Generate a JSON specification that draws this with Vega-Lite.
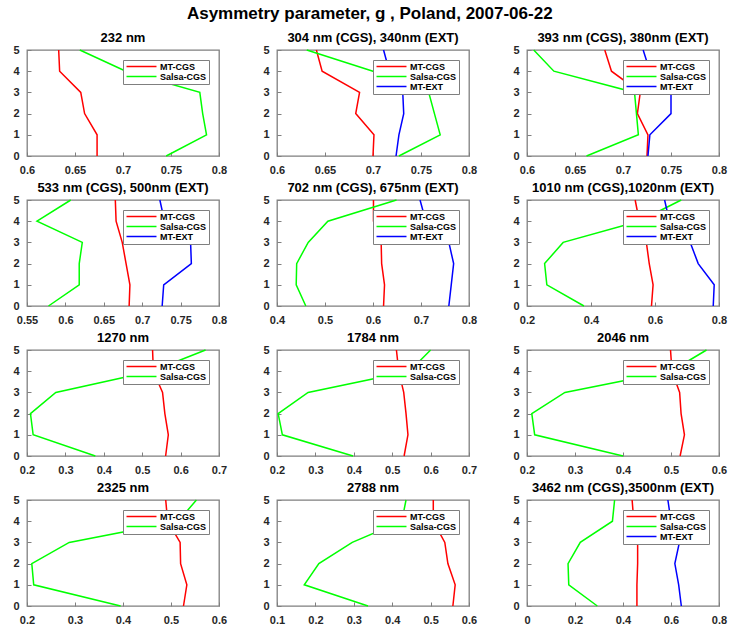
{
  "$schema": "https://vega.github.io/schema/vega-lite/v6.json",
  "title": {"text": "Asymmetry parameter, g ,  Poland, 2007-06-22", "fontSize": 17, "anchor": "middle", "offset": 8},
  "padding": {"left": 12, "top": 5, "right": 5, "bottom": 5},
  "datasets": {
    "g": [
      {"p":1,"s":"MT-CGS","y":0,"g":0.673},{"p":1,"s":"MT-CGS","y":1,"g":0.673},{"p":1,"s":"MT-CGS","y":2,"g":0.660},{"p":1,"s":"MT-CGS","y":3,"g":0.656},{"p":1,"s":"MT-CGS","y":4,"g":0.634},{"p":1,"s":"MT-CGS","y":5,"g":0.633},
      {"p":1,"s":"Salsa-CGS","y":0,"g":0.745},{"p":1,"s":"Salsa-CGS","y":1,"g":0.787},{"p":1,"s":"Salsa-CGS","y":2,"g":0.783},{"p":1,"s":"Salsa-CGS","y":3,"g":0.780},{"p":1,"s":"Salsa-CGS","y":4,"g":0.703},{"p":1,"s":"Salsa-CGS","y":5,"g":0.655},
      {"p":2,"s":"MT-CGS","y":0,"g":0.700},{"p":2,"s":"MT-CGS","y":1,"g":0.701},{"p":2,"s":"MT-CGS","y":2,"g":0.682},{"p":2,"s":"MT-CGS","y":3,"g":0.686},{"p":2,"s":"MT-CGS","y":4,"g":0.647},{"p":2,"s":"MT-CGS","y":5,"g":0.641},
      {"p":2,"s":"Salsa-CGS","y":0,"g":0.727},{"p":2,"s":"Salsa-CGS","y":1,"g":0.770},{"p":2,"s":"Salsa-CGS","y":2,"g":0.764},{"p":2,"s":"Salsa-CGS","y":3,"g":0.758},{"p":2,"s":"Salsa-CGS","y":4,"g":0.700},{"p":2,"s":"Salsa-CGS","y":5,"g":0.631},
      {"p":2,"s":"MT-EXT","y":0,"g":0.724},{"p":2,"s":"MT-EXT","y":1,"g":0.727},{"p":2,"s":"MT-EXT","y":2,"g":0.732},{"p":2,"s":"MT-EXT","y":3,"g":0.731},{"p":2,"s":"MT-EXT","y":4,"g":0.717},{"p":2,"s":"MT-EXT","y":5,"g":0.711},
      {"p":3,"s":"MT-CGS","y":0,"g":0.725},{"p":3,"s":"MT-CGS","y":1,"g":0.726},{"p":3,"s":"MT-CGS","y":2,"g":0.715},{"p":3,"s":"MT-CGS","y":3,"g":0.718},{"p":3,"s":"MT-CGS","y":4,"g":0.688},{"p":3,"s":"MT-CGS","y":5,"g":0.681},
      {"p":3,"s":"Salsa-CGS","y":0,"g":0.662},{"p":3,"s":"Salsa-CGS","y":1,"g":0.716},{"p":3,"s":"Salsa-CGS","y":2,"g":0.714},{"p":3,"s":"Salsa-CGS","y":3,"g":0.712},{"p":3,"s":"Salsa-CGS","y":4,"g":0.628},{"p":3,"s":"Salsa-CGS","y":5,"g":0.607},
      {"p":3,"s":"MT-EXT","y":0,"g":0.726},{"p":3,"s":"MT-EXT","y":1,"g":0.728},{"p":3,"s":"MT-EXT","y":2,"g":0.750},{"p":3,"s":"MT-EXT","y":3,"g":0.750},{"p":3,"s":"MT-EXT","y":4,"g":0.728},{"p":3,"s":"MT-EXT","y":5,"g":0.721},
      {"p":4,"s":"MT-CGS","y":0,"g":0.683},{"p":4,"s":"MT-CGS","y":1,"g":0.684},{"p":4,"s":"MT-CGS","y":2,"g":0.679},{"p":4,"s":"MT-CGS","y":3,"g":0.674},{"p":4,"s":"MT-CGS","y":4,"g":0.666},{"p":4,"s":"MT-CGS","y":5,"g":0.665},
      {"p":4,"s":"Salsa-CGS","y":0,"g":0.578},{"p":4,"s":"Salsa-CGS","y":1,"g":0.618},{"p":4,"s":"Salsa-CGS","y":2,"g":0.618},{"p":4,"s":"Salsa-CGS","y":3,"g":0.622},{"p":4,"s":"Salsa-CGS","y":4,"g":0.563},{"p":4,"s":"Salsa-CGS","y":5,"g":0.607},
      {"p":4,"s":"MT-EXT","y":0,"g":0.726},{"p":4,"s":"MT-EXT","y":1,"g":0.728},{"p":4,"s":"MT-EXT","y":2,"g":0.764},{"p":4,"s":"MT-EXT","y":3,"g":0.763},{"p":4,"s":"MT-EXT","y":4,"g":0.729},{"p":4,"s":"MT-EXT","y":5,"g":0.723},
      {"p":5,"s":"MT-CGS","y":0,"g":0.622},{"p":5,"s":"MT-CGS","y":1,"g":0.624},{"p":5,"s":"MT-CGS","y":2,"g":0.618},{"p":5,"s":"MT-CGS","y":3,"g":0.617},{"p":5,"s":"MT-CGS","y":4,"g":0.601},{"p":5,"s":"MT-CGS","y":5,"g":0.601},
      {"p":5,"s":"Salsa-CGS","y":0,"g":0.460},{"p":5,"s":"Salsa-CGS","y":1,"g":0.440},{"p":5,"s":"Salsa-CGS","y":2,"g":0.441},{"p":5,"s":"Salsa-CGS","y":3,"g":0.465},{"p":5,"s":"Salsa-CGS","y":4,"g":0.506},{"p":5,"s":"Salsa-CGS","y":5,"g":0.649},
      {"p":5,"s":"MT-EXT","y":0,"g":0.758},{"p":5,"s":"MT-EXT","y":1,"g":0.763},{"p":5,"s":"MT-EXT","y":2,"g":0.768},{"p":5,"s":"MT-EXT","y":3,"g":0.758},{"p":5,"s":"MT-EXT","y":4,"g":0.710},{"p":5,"s":"MT-EXT","y":5,"g":0.698},
      {"p":6,"s":"MT-CGS","y":0,"g":0.589},{"p":6,"s":"MT-CGS","y":1,"g":0.594},{"p":6,"s":"MT-CGS","y":2,"g":0.582},{"p":6,"s":"MT-CGS","y":3,"g":0.573},{"p":6,"s":"MT-CGS","y":4,"g":0.551},{"p":6,"s":"MT-CGS","y":5,"g":0.538},
      {"p":6,"s":"Salsa-CGS","y":0,"g":0.378},{"p":6,"s":"Salsa-CGS","y":1,"g":0.262},{"p":6,"s":"Salsa-CGS","y":2,"g":0.255},{"p":6,"s":"Salsa-CGS","y":3,"g":0.313},{"p":6,"s":"Salsa-CGS","y":4,"g":0.550},{"p":6,"s":"Salsa-CGS","y":5,"g":0.682},
      {"p":6,"s":"MT-EXT","y":0,"g":0.782},{"p":6,"s":"MT-EXT","y":1,"g":0.785},{"p":6,"s":"MT-EXT","y":2,"g":0.735},{"p":6,"s":"MT-EXT","y":3,"g":0.710},{"p":6,"s":"MT-EXT","y":4,"g":0.645},{"p":6,"s":"MT-EXT","y":5,"g":0.630},
      {"p":7,"s":"MT-CGS","y":0,"g":0.561},{"p":7,"s":"MT-CGS","y":1,"g":0.568},{"p":7,"s":"MT-CGS","y":2,"g":0.559},{"p":7,"s":"MT-CGS","y":3,"g":0.553},{"p":7,"s":"MT-CGS","y":4,"g":0.529},{"p":7,"s":"MT-CGS","y":5,"g":0.527},
      {"p":7,"s":"Salsa-CGS","y":0,"g":0.378},{"p":7,"s":"Salsa-CGS","y":1,"g":0.216},{"p":7,"s":"Salsa-CGS","y":2,"g":0.209},{"p":7,"s":"Salsa-CGS","y":3,"g":0.275},{"p":7,"s":"Salsa-CGS","y":4,"g":0.525},{"p":7,"s":"Salsa-CGS","y":5,"g":0.665},
      {"p":8,"s":"MT-CGS","y":0,"g":0.531},{"p":8,"s":"MT-CGS","y":1,"g":0.541},{"p":8,"s":"MT-CGS","y":2,"g":0.536},{"p":8,"s":"MT-CGS","y":3,"g":0.530},{"p":8,"s":"MT-CGS","y":4,"g":0.517},{"p":8,"s":"MT-CGS","y":5,"g":0.511},
      {"p":8,"s":"Salsa-CGS","y":0,"g":0.398},{"p":8,"s":"Salsa-CGS","y":1,"g":0.214},{"p":8,"s":"Salsa-CGS","y":2,"g":0.203},{"p":8,"s":"Salsa-CGS","y":3,"g":0.281},{"p":8,"s":"Salsa-CGS","y":4,"g":0.545},{"p":8,"s":"Salsa-CGS","y":5,"g":0.600},
      {"p":9,"s":"MT-CGS","y":0,"g":0.519},{"p":9,"s":"MT-CGS","y":1,"g":0.528},{"p":9,"s":"MT-CGS","y":2,"g":0.521},{"p":9,"s":"MT-CGS","y":3,"g":0.518},{"p":9,"s":"MT-CGS","y":4,"g":0.502},{"p":9,"s":"MT-CGS","y":5,"g":0.499},
      {"p":9,"s":"Salsa-CGS","y":0,"g":0.400},{"p":9,"s":"Salsa-CGS","y":1,"g":0.216},{"p":9,"s":"Salsa-CGS","y":2,"g":0.210},{"p":9,"s":"Salsa-CGS","y":3,"g":0.279},{"p":9,"s":"Salsa-CGS","y":4,"g":0.500},{"p":9,"s":"Salsa-CGS","y":5,"g":0.574},
      {"p":10,"s":"MT-CGS","y":0,"g":0.526},{"p":10,"s":"MT-CGS","y":1,"g":0.533},{"p":10,"s":"MT-CGS","y":2,"g":0.520},{"p":10,"s":"MT-CGS","y":3,"g":0.519},{"p":10,"s":"MT-CGS","y":4,"g":0.493},{"p":10,"s":"MT-CGS","y":5,"g":0.489},
      {"p":10,"s":"Salsa-CGS","y":0,"g":0.395},{"p":10,"s":"Salsa-CGS","y":1,"g":0.214},{"p":10,"s":"Salsa-CGS","y":2,"g":0.210},{"p":10,"s":"Salsa-CGS","y":3,"g":0.288},{"p":10,"s":"Salsa-CGS","y":4,"g":0.515},{"p":10,"s":"Salsa-CGS","y":5,"g":0.553},
      {"p":11,"s":"MT-CGS","y":0,"g":0.558},{"p":11,"s":"MT-CGS","y":1,"g":0.564},{"p":11,"s":"MT-CGS","y":2,"g":0.545},{"p":11,"s":"MT-CGS","y":3,"g":0.537},{"p":11,"s":"MT-CGS","y":4,"g":0.507},{"p":11,"s":"MT-CGS","y":5,"g":0.507},
      {"p":11,"s":"Salsa-CGS","y":0,"g":0.337},{"p":11,"s":"Salsa-CGS","y":1,"g":0.171},{"p":11,"s":"Salsa-CGS","y":2,"g":0.209},{"p":11,"s":"Salsa-CGS","y":3,"g":0.296},{"p":11,"s":"Salsa-CGS","y":4,"g":0.425},{"p":11,"s":"Salsa-CGS","y":5,"g":0.436},
      {"p":12,"s":"MT-CGS","y":0,"g":0.458},{"p":12,"s":"MT-CGS","y":1,"g":0.458},{"p":12,"s":"MT-CGS","y":2,"g":0.461},{"p":12,"s":"MT-CGS","y":3,"g":0.461},{"p":12,"s":"MT-CGS","y":4,"g":0.445},{"p":12,"s":"MT-CGS","y":5,"g":0.438},
      {"p":12,"s":"Salsa-CGS","y":0,"g":0.293},{"p":12,"s":"Salsa-CGS","y":1,"g":0.174},{"p":12,"s":"Salsa-CGS","y":2,"g":0.171},{"p":12,"s":"Salsa-CGS","y":3,"g":0.222},{"p":12,"s":"Salsa-CGS","y":4,"g":0.356},{"p":12,"s":"Salsa-CGS","y":5,"g":0.365},
      {"p":12,"s":"MT-EXT","y":0,"g":0.643},{"p":12,"s":"MT-EXT","y":1,"g":0.632},{"p":12,"s":"MT-EXT","y":2,"g":0.616},{"p":12,"s":"MT-EXT","y":3,"g":0.635},{"p":12,"s":"MT-EXT","y":4,"g":0.600},{"p":12,"s":"MT-EXT","y":5,"g":0.587}
    ]
  },
  "data": {"name": "g"},
  "columns": 3,
  "spacing": {"column": 58, "row": 44},
  "bounds": "flush",
  "concat": [
    {"title": "232 nm", "width": 192, "height": 106, "transform": [{"filter": "datum.p == 1"}], "mark": {"type": "line", "strokeWidth": 1.5},
     "encoding": {"x": {"field": "g", "type": "quantitative", "scale": {"domain": [0.6, 0.8], "nice": false, "zero": false}, "axis": {"values": [0.6, 0.65, 0.7, 0.75, 0.8]}},
       "y": {"field": "y", "type": "quantitative", "scale": {"domain": [0, 5], "nice": false}, "axis": {"values": [0, 1, 2, 3, 4, 5]}},
       "color": {"field": "s", "type": "nominal", "scale": {"domain": ["MT-CGS", "Salsa-CGS"], "range": ["#ff0000", "#00ff00"]}},
       "order": {"field": "y", "type": "quantitative"}}},
    {"title": "304 nm (CGS), 340nm (EXT)", "width": 192, "height": 106, "transform": [{"filter": "datum.p == 2"}], "mark": {"type": "line", "strokeWidth": 1.5},
     "encoding": {"x": {"field": "g", "type": "quantitative", "scale": {"domain": [0.6, 0.8], "nice": false, "zero": false}, "axis": {"values": [0.6, 0.65, 0.7, 0.75, 0.8]}},
       "y": {"field": "y", "type": "quantitative", "scale": {"domain": [0, 5], "nice": false}, "axis": {"values": [0, 1, 2, 3, 4, 5]}},
       "color": {"field": "s", "type": "nominal", "scale": {"domain": ["MT-CGS", "Salsa-CGS", "MT-EXT"], "range": ["#ff0000", "#00ff00", "#0000ff"]}},
       "order": {"field": "y", "type": "quantitative"}}},
    {"title": "393 nm (CGS), 380nm (EXT)", "width": 192, "height": 106, "transform": [{"filter": "datum.p == 3"}], "mark": {"type": "line", "strokeWidth": 1.5},
     "encoding": {"x": {"field": "g", "type": "quantitative", "scale": {"domain": [0.6, 0.8], "nice": false, "zero": false}, "axis": {"values": [0.6, 0.65, 0.7, 0.75, 0.8]}},
       "y": {"field": "y", "type": "quantitative", "scale": {"domain": [0, 5], "nice": false}, "axis": {"values": [0, 1, 2, 3, 4, 5]}},
       "color": {"field": "s", "type": "nominal", "scale": {"domain": ["MT-CGS", "Salsa-CGS", "MT-EXT"], "range": ["#ff0000", "#00ff00", "#0000ff"]}},
       "order": {"field": "y", "type": "quantitative"}}},
    {"title": "533 nm (CGS), 500nm (EXT)", "width": 192, "height": 106, "transform": [{"filter": "datum.p == 4"}], "mark": {"type": "line", "strokeWidth": 1.5},
     "encoding": {"x": {"field": "g", "type": "quantitative", "scale": {"domain": [0.55, 0.8], "nice": false, "zero": false}, "axis": {"values": [0.55, 0.6, 0.65, 0.7, 0.75, 0.8]}},
       "y": {"field": "y", "type": "quantitative", "scale": {"domain": [0, 5], "nice": false}, "axis": {"values": [0, 1, 2, 3, 4, 5]}},
       "color": {"field": "s", "type": "nominal", "scale": {"domain": ["MT-CGS", "Salsa-CGS", "MT-EXT"], "range": ["#ff0000", "#00ff00", "#0000ff"]}},
       "order": {"field": "y", "type": "quantitative"}}},
    {"title": "702 nm (CGS), 675nm (EXT)", "width": 192, "height": 106, "transform": [{"filter": "datum.p == 5"}], "mark": {"type": "line", "strokeWidth": 1.5},
     "encoding": {"x": {"field": "g", "type": "quantitative", "scale": {"domain": [0.4, 0.8], "nice": false, "zero": false}, "axis": {"values": [0.4, 0.5, 0.6, 0.7, 0.8]}},
       "y": {"field": "y", "type": "quantitative", "scale": {"domain": [0, 5], "nice": false}, "axis": {"values": [0, 1, 2, 3, 4, 5]}},
       "color": {"field": "s", "type": "nominal", "scale": {"domain": ["MT-CGS", "Salsa-CGS", "MT-EXT"], "range": ["#ff0000", "#00ff00", "#0000ff"]}},
       "order": {"field": "y", "type": "quantitative"}}},
    {"title": "1010 nm (CGS),1020nm (EXT)", "width": 192, "height": 106, "transform": [{"filter": "datum.p == 6"}], "mark": {"type": "line", "strokeWidth": 1.5},
     "encoding": {"x": {"field": "g", "type": "quantitative", "scale": {"domain": [0.2, 0.8], "nice": false, "zero": false}, "axis": {"values": [0.2, 0.4, 0.6, 0.8]}},
       "y": {"field": "y", "type": "quantitative", "scale": {"domain": [0, 5], "nice": false}, "axis": {"values": [0, 1, 2, 3, 4, 5]}},
       "color": {"field": "s", "type": "nominal", "scale": {"domain": ["MT-CGS", "Salsa-CGS", "MT-EXT"], "range": ["#ff0000", "#00ff00", "#0000ff"]}},
       "order": {"field": "y", "type": "quantitative"}}},
    {"title": "1270 nm", "width": 192, "height": 106, "transform": [{"filter": "datum.p == 7"}], "mark": {"type": "line", "strokeWidth": 1.5},
     "encoding": {"x": {"field": "g", "type": "quantitative", "scale": {"domain": [0.2, 0.7], "nice": false, "zero": false}, "axis": {"values": [0.2, 0.3, 0.4, 0.5, 0.6, 0.7]}},
       "y": {"field": "y", "type": "quantitative", "scale": {"domain": [0, 5], "nice": false}, "axis": {"values": [0, 1, 2, 3, 4, 5]}},
       "color": {"field": "s", "type": "nominal", "scale": {"domain": ["MT-CGS", "Salsa-CGS"], "range": ["#ff0000", "#00ff00"]}},
       "order": {"field": "y", "type": "quantitative"}}},
    {"title": "1784 nm", "width": 192, "height": 106, "transform": [{"filter": "datum.p == 8"}], "mark": {"type": "line", "strokeWidth": 1.5},
     "encoding": {"x": {"field": "g", "type": "quantitative", "scale": {"domain": [0.2, 0.7], "nice": false, "zero": false}, "axis": {"values": [0.2, 0.3, 0.4, 0.5, 0.6, 0.7]}},
       "y": {"field": "y", "type": "quantitative", "scale": {"domain": [0, 5], "nice": false}, "axis": {"values": [0, 1, 2, 3, 4, 5]}},
       "color": {"field": "s", "type": "nominal", "scale": {"domain": ["MT-CGS", "Salsa-CGS"], "range": ["#ff0000", "#00ff00"]}},
       "order": {"field": "y", "type": "quantitative"}}},
    {"title": "2046 nm", "width": 192, "height": 106, "transform": [{"filter": "datum.p == 9"}], "mark": {"type": "line", "strokeWidth": 1.5},
     "encoding": {"x": {"field": "g", "type": "quantitative", "scale": {"domain": [0.2, 0.6], "nice": false, "zero": false}, "axis": {"values": [0.2, 0.3, 0.4, 0.5, 0.6]}},
       "y": {"field": "y", "type": "quantitative", "scale": {"domain": [0, 5], "nice": false}, "axis": {"values": [0, 1, 2, 3, 4, 5]}},
       "color": {"field": "s", "type": "nominal", "scale": {"domain": ["MT-CGS", "Salsa-CGS"], "range": ["#ff0000", "#00ff00"]}},
       "order": {"field": "y", "type": "quantitative"}}},
    {"title": "2325 nm", "width": 192, "height": 106, "transform": [{"filter": "datum.p == 10"}], "mark": {"type": "line", "strokeWidth": 1.5},
     "encoding": {"x": {"field": "g", "type": "quantitative", "scale": {"domain": [0.2, 0.6], "nice": false, "zero": false}, "axis": {"values": [0.2, 0.3, 0.4, 0.5, 0.6]}},
       "y": {"field": "y", "type": "quantitative", "scale": {"domain": [0, 5], "nice": false}, "axis": {"values": [0, 1, 2, 3, 4, 5]}},
       "color": {"field": "s", "type": "nominal", "scale": {"domain": ["MT-CGS", "Salsa-CGS"], "range": ["#ff0000", "#00ff00"]}},
       "order": {"field": "y", "type": "quantitative"}}},
    {"title": "2788 nm", "width": 192, "height": 106, "transform": [{"filter": "datum.p == 11"}], "mark": {"type": "line", "strokeWidth": 1.5},
     "encoding": {"x": {"field": "g", "type": "quantitative", "scale": {"domain": [0.1, 0.6], "nice": false, "zero": false}, "axis": {"values": [0.1, 0.2, 0.3, 0.4, 0.5, 0.6]}},
       "y": {"field": "y", "type": "quantitative", "scale": {"domain": [0, 5], "nice": false}, "axis": {"values": [0, 1, 2, 3, 4, 5]}},
       "color": {"field": "s", "type": "nominal", "scale": {"domain": ["MT-CGS", "Salsa-CGS"], "range": ["#ff0000", "#00ff00"]}},
       "order": {"field": "y", "type": "quantitative"}}},
    {"title": "3462 nm (CGS),3500nm (EXT)", "width": 192, "height": 106, "transform": [{"filter": "datum.p == 12"}], "mark": {"type": "line", "strokeWidth": 1.5},
     "encoding": {"x": {"field": "g", "type": "quantitative", "scale": {"domain": [0, 0.8], "nice": false, "zero": false}, "axis": {"values": [0, 0.2, 0.4, 0.6, 0.8]}},
       "y": {"field": "y", "type": "quantitative", "scale": {"domain": [0, 5], "nice": false}, "axis": {"values": [0, 1, 2, 3, 4, 5]}},
       "color": {"field": "s", "type": "nominal", "scale": {"domain": ["MT-CGS", "Salsa-CGS", "MT-EXT"], "range": ["#ff0000", "#00ff00", "#0000ff"]}},
       "order": {"field": "y", "type": "quantitative"}}}
  ],
  "resolve": {"scale": {"color": "independent", "x": "independent", "y": "independent"}, "legend": {"color": "independent"}},
  "config": {
    "font": "Liberation Sans",
    "background": "white",
    "view": {"stroke": "#7f7f7f", "strokeWidth": 1.3},
    "axis": {"domain": false, "grid": false, "title": null, "tickSize": -4, "tickColor": "#7f7f7f", "tickWidth": 1, "labelFontSize": 11, "labelFontWeight": "bold", "labelColor": "#262626", "labelPadding": 12, "labelFlush": false, "labelOverlap": false, "format": "~g"},
    "title": {"fontSize": 13, "fontWeight": "bold", "color": "black", "offset": -1, "anchor": "middle"},
    "legend": {"orient": "top-right", "offset": 10, "title": null, "fillColor": "white", "strokeColor": "#7f7f7f", "padding": 2, "labelFontSize": 9, "labelFontWeight": "bold", "labelColor": "black", "symbolType": "M-5,0H5", "symbolSize": 36, "symbolStrokeWidth": 1.5, "rowPadding": 0, "symbolOffset": 12, "labelOffset": 14}
  }
}
